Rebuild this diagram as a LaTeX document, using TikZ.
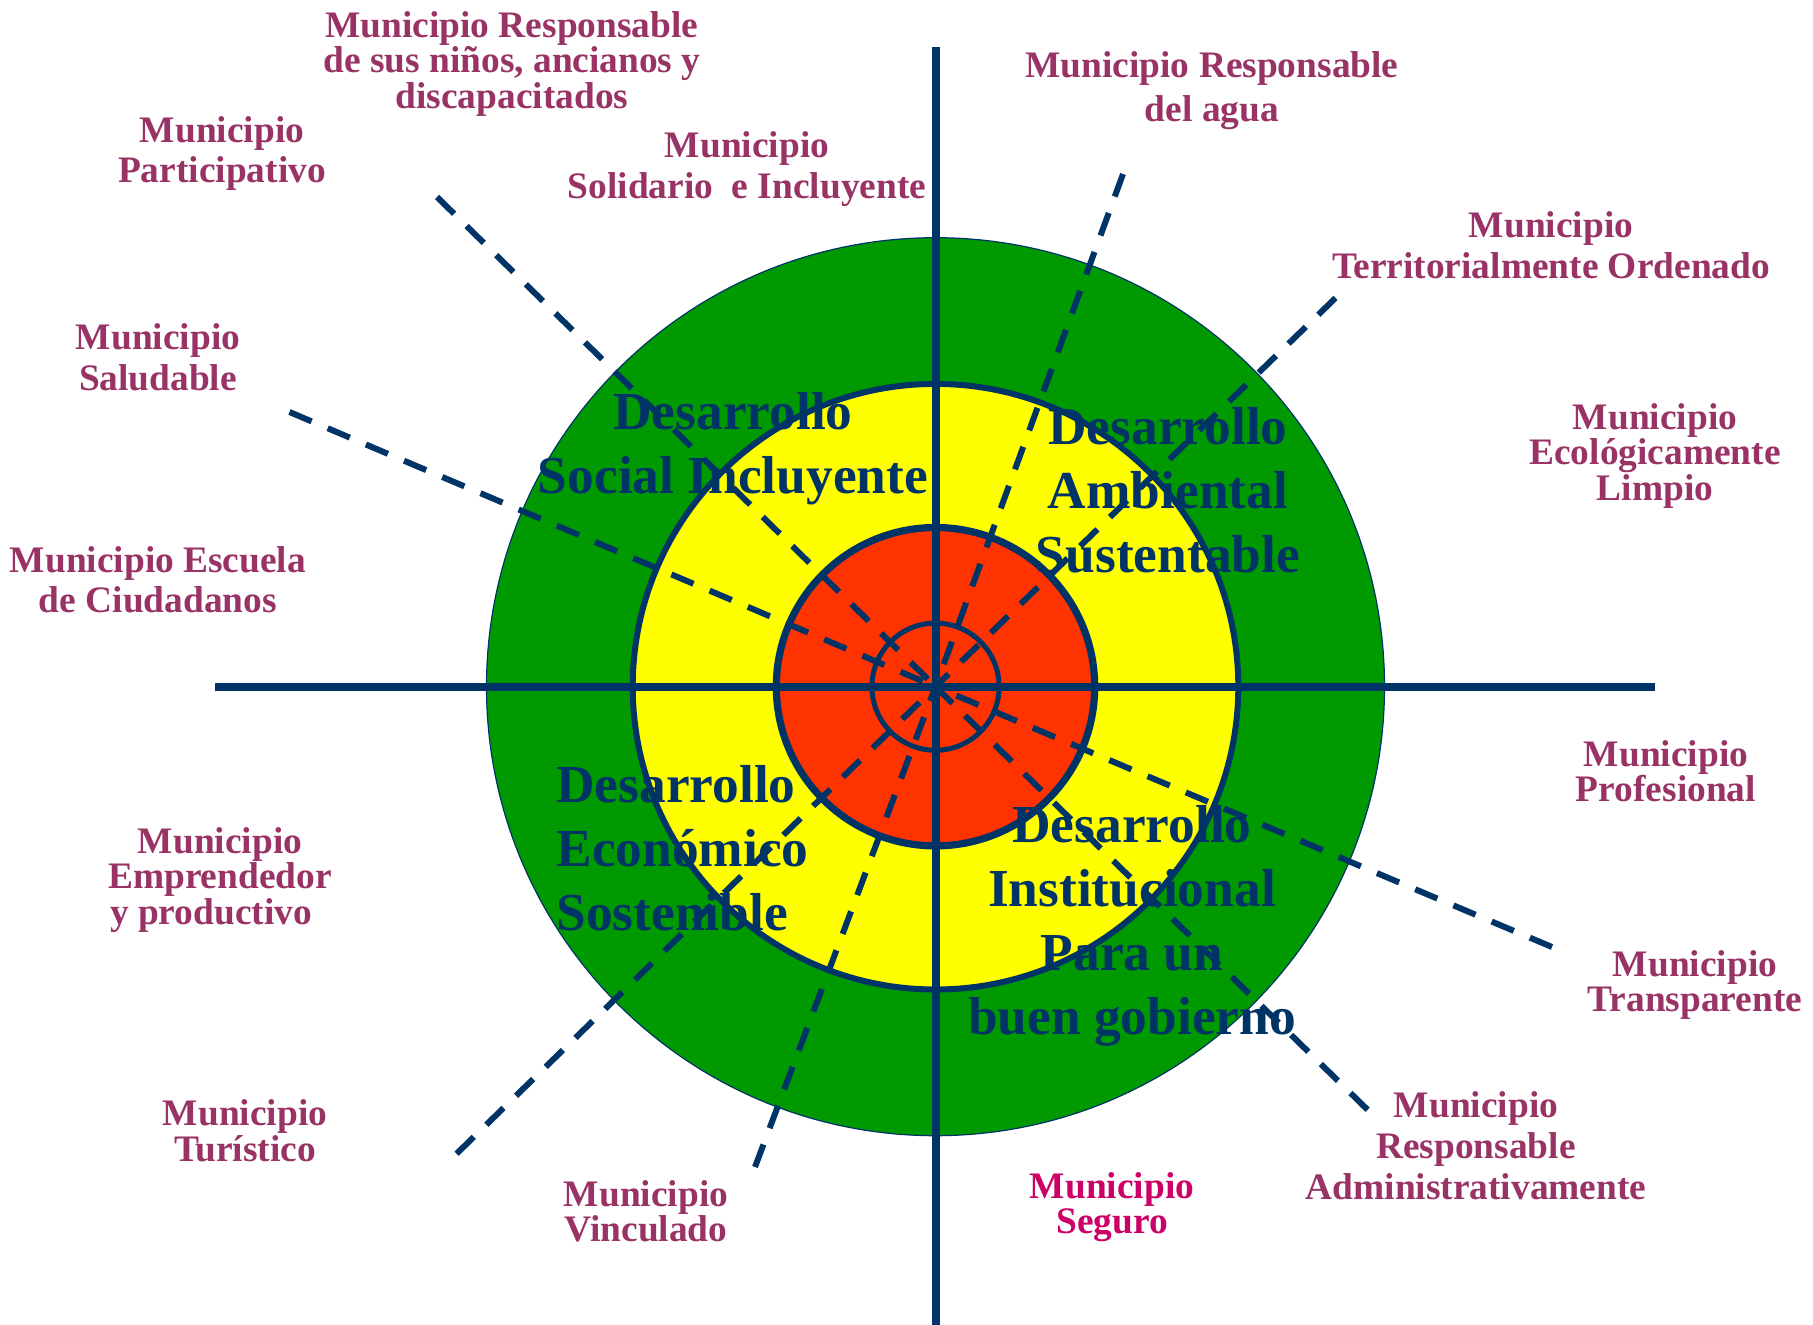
\documentclass[tikz,border=0pt]{standalone}
\usepackage{fontspec}
\setmainfont{Liberation Serif}
\definecolor{dblue}{HTML}{003366}
\definecolor{munic}{HTML}{993366}
\definecolor{segur}{HTML}{CC0066}
\definecolor{ringgreen}{HTML}{009900}
\definecolor{ringyellow}{HTML}{FFFF00}
\definecolor{ringred}{HTML}{FF3300}
\newcommand{\tightlines}{\setlength{\lineskiplimit}{-20pt}}
\tikzset{
  muni/.style={text=munic, font=\bfseries\fontsize{18.7}{17.75}\selectfont, align=center, inner sep=0pt},
  wide/.style={font={\bfseries\fontsize{18.7}{#1}\selectfont\tightlines}},
  desa/.style={text=dblue, font=\bfseries\fontsize{26.7}{32}\selectfont, align=center, inner sep=0pt},
  ray/.style={draw=dblue, line width=3pt, dash pattern=on 12pt off 8.75pt},
  axisline/.style={draw=dblue, line width=4pt},
}
\begin{document}
\begin{tikzpicture}[x=0.5pt,y=-0.5pt]
\useasboundingbox (0,0) rectangle (1813,1325);
\coordinate (c) at (935.5,686.7);
% rings
\filldraw[fill=ringgreen, draw=dblue, line width=0.6pt] (c) circle[radius=224.5pt];
\filldraw[fill=ringyellow, draw=dblue, line width=3pt] (c) circle[radius=151.4pt];
\filldraw[fill=ringred, draw=dblue, line width=3.6pt] (c) circle[radius=79.6pt];
\draw[draw=dblue, line width=2.5pt] (c) circle[radius=31.8pt];
% axes
\coordinate (top) at (935.5,47);
\coordinate (bot) at (935.5,1325);
\coordinate (lft) at (215,686.7);
\coordinate (rgt) at (1655,686.7);
\draw[axisline] (top) -- (bot);
\draw[axisline] (lft) -- (rgt);
% dashed rays
\coordinate (r1) at (437,197);
\coordinate (r2) at (289.5,412);
\coordinate (r3) at (1123,174);
\coordinate (r4) at (1335.5,298);
\coordinate (r5) at (456.6,1153.7);
\coordinate (r6) at (755,1167);
\coordinate (r7) at (1552,947);
\coordinate (r8) at (1367.6,1109.8);
\foreach \r in {r1,r2,r3,r4,r5,r6,r7,r8} \draw[ray] (\r) -- (c);
% inner texts
\node[desa] (social) at (733,449) {Desarrollo\\Social Incluyente};
\node[desa] (ambiental) at (1168,490) {Desarrollo\\Ambiental\\Sustentable};
\node[desa, align=left, anchor=west] (economico) at (556,848) {Desarrollo\\Económico\\Sostenible};
\node[desa] (institucional) at (1132,926) {Desarrollo\\Institucional\\Para un\\buen gobierno};
% outer labels
\node[muni] (ninos) at (512,64) {Municipio Responsable\\de sus niños, ancianos y\\discapacitados};
\node[muni, wide=20] (particip) at (222,154) {Municipio\\Participativo};
\node[muni, wide=20.7] (solidario) at (747,169) {Municipio\\Solidario~~e Incluyente};
\node[muni, wide=20.5] (saludable) at (158,357) {Municipio\\Saludable};
\node[muni, wide=20] (escuela) at (158,580) {Municipio Escuela\\de Ciudadanos};
\node[muni, wide=21.9] (agua) at (1212,91) {Municipio Responsable\\del agua};
\node[muni, wide=20.5] (territorial) at (1551,245.5) {Municipio\\Territorialmente Ordenado};
\node[muni] (ecologico) at (1655,456) {Municipio\\Ecológicamente\\Limpio};
\node[muni] (emprendedor) at (220,880) {Municipio\\Emprendedor\\y productivo\hspace*{9pt}};
\node[muni] (turistico) at (245,1130.5) {Municipio\\Turístico};
\node[muni] (vinculado) at (646,1211.5) {Municipio\\Vinculado};
\node[muni] (profesional) at (1666,771) {Municipio\\Profesional};
\node[muni] (transparente) at (1695,985) {Municipio\\Transparente};
\node[muni, wide=20.4] (administr) at (1476,1145.5) {Municipio\\Responsable\\Administrativamente};
\node[muni, text=segur] (seguro) at (1112,1207) {Municipio\\Seguro};
\end{tikzpicture}
\end{document}
